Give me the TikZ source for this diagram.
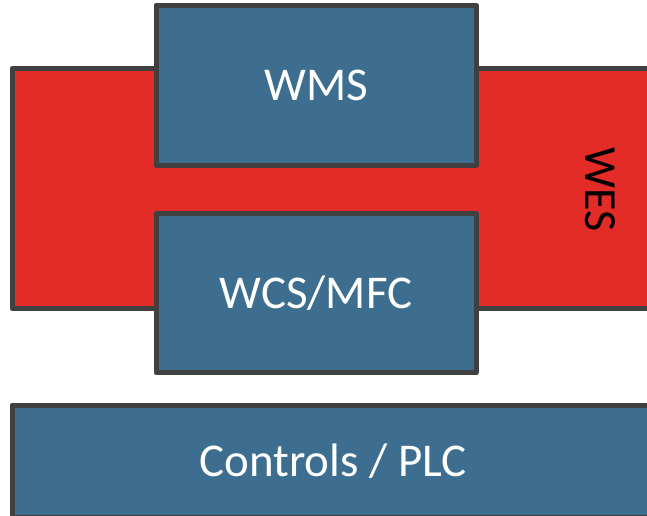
\documentclass[tikz,border=0pt]{standalone}
\usepackage{fontspec}
\setmainfont{Carlito}
\usepackage{tikz}
\usetikzlibrary{arrows.meta}
\definecolor{wesred}{HTML}{E32B27}
\definecolor{sysblue}{HTML}{3D6E8F}
\definecolor{edgegray}{HTML}{404040}

\begin{document}
\begin{tikzpicture}[x=1pt,y=-1pt]
\useasboundingbox (0,0) rectangle (647,515);
\clip (0,0) rectangle (647,515);
\begin{scope}[every node/.style={rectangle,draw=edgegray,line width=5pt,line join=round,inner sep=0pt,font=\fontsize{47}{56}\selectfont}]
    \node (wes) [fill=wesred,minimum width=642pt,minimum height=240pt] at (333,188.5) {};
    \node (wms) [fill=sysblue,text=white,minimum width=320pt,minimum height=160pt] at (316,85) {WMS};
    \node (wcs) [fill=sysblue,text=white,minimum width=320pt,minimum height=159.5pt] at (316,292.75) {WCS/MFC};
    \node (plc) [fill=sysblue,text=white,minimum width=642pt,minimum height=112pt] at (333,461) {Controls / PLC};
\end{scope}
	\node (weslabel) [rotate=-90,font=\fontsize{46}{55}\selectfont] at (600,189.5) {WES};
\end{tikzpicture}
\end{document}
